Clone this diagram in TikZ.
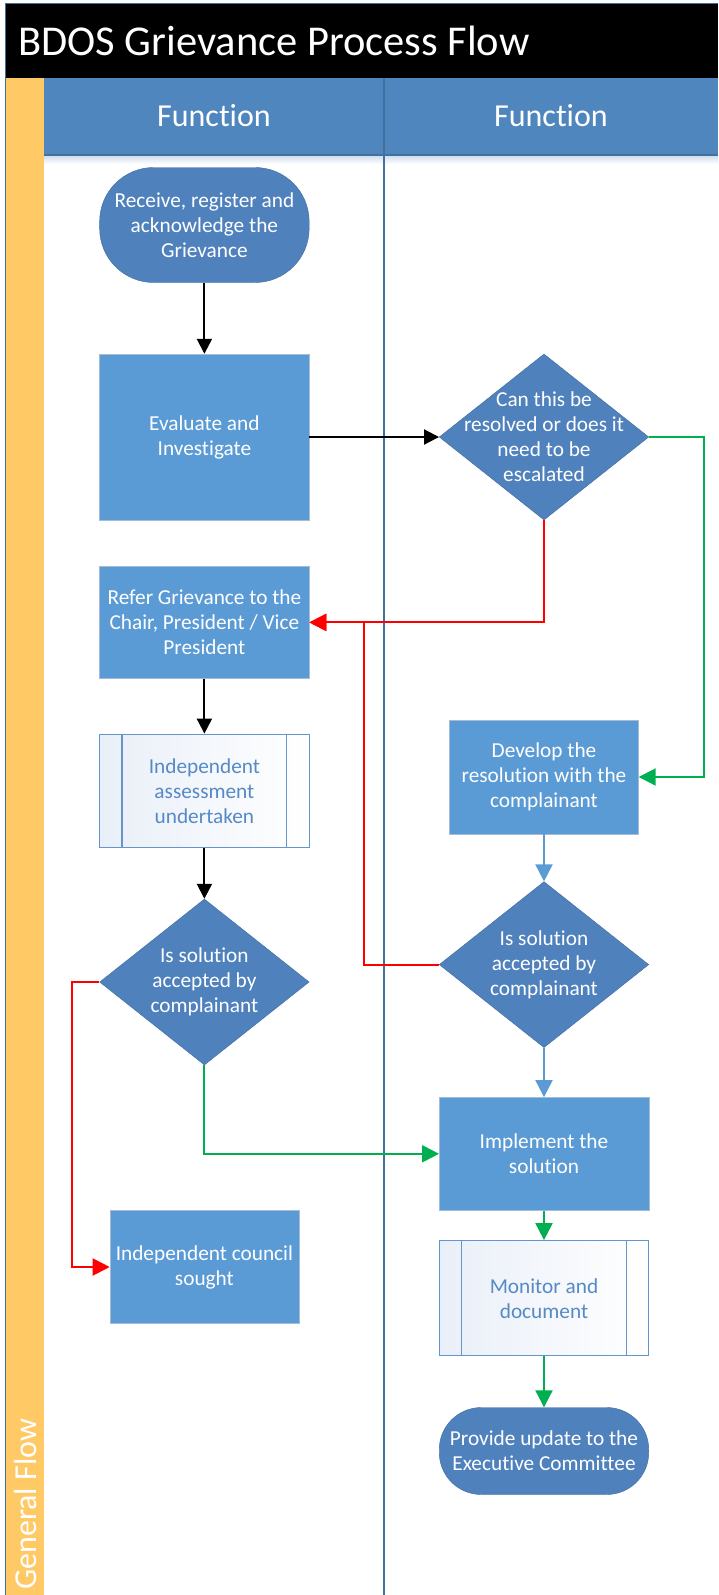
\documentclass[tikz,border=0pt]{standalone}
\usepackage{fontspec}
\setmainfont{Carlito}[Ligatures=NoCommon]
\usepackage{pgf, tikz}
\usetikzlibrary{arrows.meta, shapes.geometric}

\definecolor{titlebg}{RGB}{0,0,0}
\definecolor{headblue}{RGB}{80,134,190}
\definecolor{laneline}{RGB}{65,113,156}
\definecolor{flowyellow}{RGB}{255,202,102}
\definecolor{darkfill}{RGB}{79,129,189}
\definecolor{darkedge}{RGB}{65,108,160}
\definecolor{lightfill}{RGB}{91,155,213}
\definecolor{lightedge}{RGB}{165,188,215}
\definecolor{subedge}{RGB}{100,150,205}
\definecolor{subtext}{RGB}{86,138,198}
\definecolor{subshade}{RGB}{233,239,248}
\definecolor{okgreen}{RGB}{0,176,80}
\definecolor{nored}{RGB}{255,0,0}
\definecolor{flowblue}{RGB}{91,155,213}

\newcommand{\flowtext}{\fontsize{21.3}{25}\selectfont}

\begin{document}
\begin{tikzpicture}[x=1pt, y=-1pt, align=center,
    terminal/.style={rectangle, draw=darkedge, fill=darkfill, text=white, minimum width=209.5pt, inner sep=2pt, font=\flowtext},
    box/.style={rectangle, draw=lightedge, fill=lightfill, text=white, minimum width=209.5pt, minimum height=113pt, inner sep=2pt, font=\flowtext},
    subproc/.style={rectangle, draw=subedge, line width=1.2pt, left color=subshade, right color=white, text=subtext, minimum width=209.5pt, minimum height=113pt, font=\flowtext},
    decision/.style={diamond, draw=darkedge, fill=darkfill, text=white, minimum width=209.5pt, minimum height=166pt, inner xsep=-70pt, inner ysep=-45pt, font=\flowtext},
    blackflow/.style={draw=black, line width=2pt, -{Triangle[length=15pt, width=15pt]}},
    redflow/.style={draw=nored, line width=2pt, -{Triangle[length=17pt, width=17pt]}},
    greenflow/.style={draw=okgreen, line width=2pt, -{Triangle[length=17pt, width=17pt]}},
    blueflow/.style={draw=flowblue, line width=2pt, -{Triangle[length=17pt, width=17pt]}}]

\useasboundingbox (0,0) rectangle (718,1595);

% title bar, header and lanes
\fill[titlebg] (6,4) rectangle (718,78);
\fill[headblue] (44,78) rectangle (718,155);
\shade[top color=headblue!30, bottom color=white] (44,155) rectangle (718,164);
\fill[flowyellow] (6,78) rectangle (44,1595);
\draw[laneline, line width=1.5pt] (5.5,1595) -- (5.5,3.5) -- (718,3.5);
\draw[laneline, line width=1.5pt] (44,155) -- (718,155);
\draw[laneline, line width=2pt] (384,78) -- (384,1595);

\path (18,41) node[anchor=west, inner sep=0pt, text=white, font=\fontsize{42.5}{50}\selectfont] (title) {BDOS Grievance Process Flow}

      (214,116) node[text=white, font=\fontsize{32}{38}\selectfont] (fn1) {Function}
      (551,116) node[text=white, font=\fontsize{32}{38}\selectfont] (fn2) {Function}

      (25.5,1590) node[rotate=90, anchor=west, inner sep=0pt, text=white, font=\fontsize{32}{38}\selectfont] (gflow) {General Flow};

% left lane
\path (204.4,225) node[terminal, minimum height=115pt, rounded corners=54pt] (receive) {Receive, register and\\acknowledge the\\Grievance}
      (204.4,437) node[box, minimum height=166pt] (evaluate) {Evaluate and\\Investigate}
      (204.4,622.4) node[box, minimum height=112pt] (refer) {Refer Grievance to the\\Chair, President / Vice\\President}
      (204.4,790.7) node[subproc] (assess) {Independent\\assessment\\undertaken}
      (204.4,982) node[decision] (acceptL) {Is solution\\accepted by\\complainant}
      (204.4,1267) node[box, minimum width=189pt] (council) {Independent council\\sought};

% right lane
\path (544,437) node[decision] (resolve) {Can this be\\resolved or does it\\need to be\\escalated}
      (544,777) node[box, minimum width=189pt, minimum height=114pt] (develop) {Develop the\\resolution with the\\complainant}
      (544,964.6) node[decision] (acceptR) {Is solution\\accepted by\\complainant}
      (544,1153.8) node[box] (implement) {Implement the\\solution}
      (544,1298.2) node[subproc, minimum height=115pt] (monitor) {Monitor and\\document}
      (544,1451) node[terminal, minimum height=87pt, rounded corners=42pt] (update) {Provide update to the\\Executive Committee};

% subprocess bars
\draw[subedge, line width=1.2pt] ([xshift=23pt]assess.north west) -- ([xshift=23pt]assess.south west);
\draw[subedge, line width=1.2pt] ([xshift=-23pt]assess.north east) -- ([xshift=-23pt]assess.south east);
\draw[subedge, line width=1.2pt] ([xshift=23pt]monitor.north west) -- ([xshift=23pt]monitor.south west);
\draw[subedge, line width=1.2pt] ([xshift=-23pt]monitor.north east) -- ([xshift=-23pt]monitor.south east);

\draw[blackflow] (receive) to (evaluate);
\draw[blackflow] (evaluate) to (resolve);
\draw[redflow] (resolve.south) |- (refer.east);
\draw[greenflow] (resolve.east) -- ++(55,0) |- (develop.east);
\draw[blackflow] (refer) to (assess);
\draw[blackflow] (assess) to (acceptL);
\draw[redflow] (acceptL.west) -- ++(-27.5,0) |- (council.west);
\draw[greenflow] (acceptL.south) |- (implement.west);
\draw[blueflow] (develop) to (acceptR);
\draw[redflow] (acceptR.west) -- ++(-75,0) |- (refer.east);
\draw[blueflow] (acceptR) to (implement);
\draw[greenflow] (implement) to (monitor);
\draw[greenflow] (monitor) to (update);

\end{tikzpicture}
\end{document}
